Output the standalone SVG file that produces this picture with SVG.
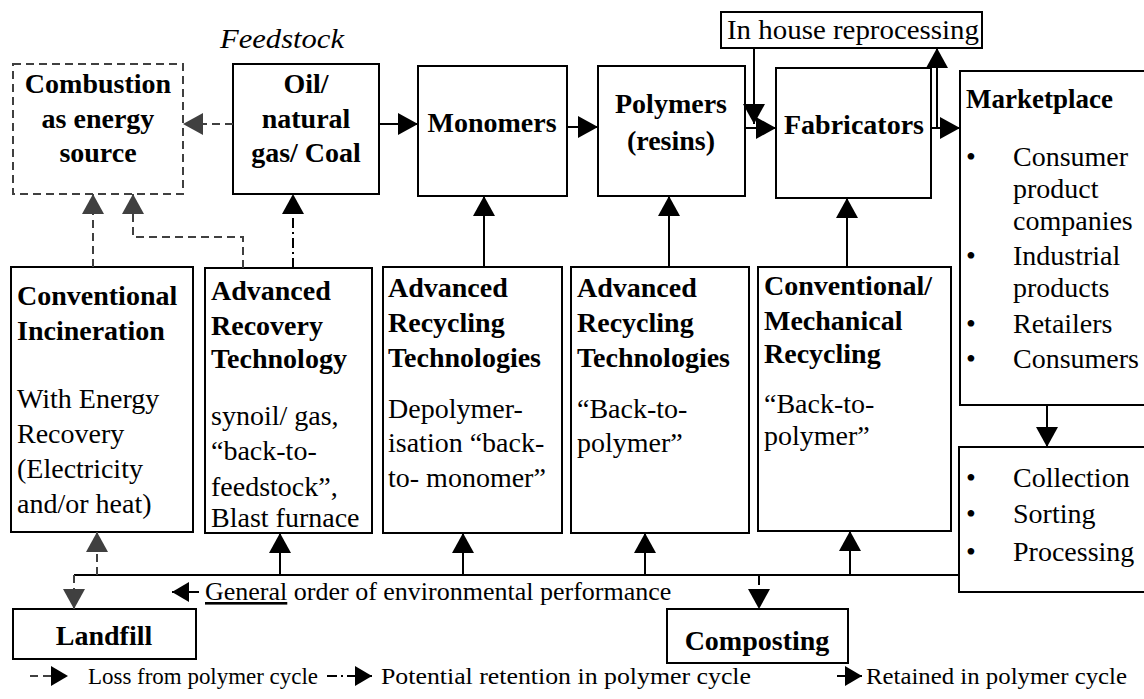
<svg xmlns="http://www.w3.org/2000/svg" width="1144" height="699" viewBox="0 0 1144 699" font-family="'Liberation Serif', Tinos, 'DejaVu Serif', 'Noto Serif', serif">
<style>
text{font-family:'Liberation Serif', Tinos, 'DejaVu Serif', 'Noto Serif', serif;fill:#000}
.b{font-size:28px;font-weight:bold}
.r{font-size:28px}
.m{text-anchor:middle}
.lg{font-size:24px}
.box{fill:#fff;stroke:#000;stroke-width:2}
.dbox{fill:#fff;stroke:#404040;stroke-width:2;stroke-dasharray:8,5}
.c{fill:none;stroke:#000;stroke-width:2}
.loss{fill:none;stroke:#404040;stroke-width:2;stroke-dasharray:8,5}
.pot{fill:none;stroke:#000;stroke-width:2;stroke-dasharray:10,4,2,4}
</style>
<defs>
<marker id="ah" markerUnits="userSpaceOnUse" markerWidth="20" markerHeight="22" refX="20" refY="11" orient="auto"><path d="M0,0 L20,11 L0,22 z" fill="#000"/></marker>
<marker id="ahg" markerUnits="userSpaceOnUse" markerWidth="20" markerHeight="22" refX="20" refY="11" orient="auto"><path d="M0,0 L20,11 L0,22 z" fill="#404040"/></marker>
<marker id="ahs" markerUnits="userSpaceOnUse" markerWidth="17" markerHeight="20" refX="17" refY="10" orient="auto"><path d="M0,0 L17,10 L0,20 z" fill="#000"/></marker>
</defs>

<text x="220" y="48" style="font-size:28px;font-style:italic" textLength="124" lengthAdjust="spacingAndGlyphs">Feedstock</text>

<g id="combustion">
<rect class="dbox" x="13" y="64" width="170" height="130"/>
<text class="b m" x="98" y="93">Combustion</text>
<text class="b m" x="98" y="128">as energy</text>
<text class="b m" x="98" y="162">source</text>
</g>
<g id="oil">
<rect class="box" x="233" y="64" width="146" height="130"/>
<text class="b m" x="306" y="93">Oil/</text>
<text class="b m" x="306" y="128">natural</text>
<text class="b m" x="306" y="162">gas/ Coal</text>
</g>
<g id="monomers">
<rect class="box" x="418" y="66" width="149" height="130"/>
<text class="b m" x="492" y="132">Monomers</text>
</g>
<g id="polymers">
<rect class="box" x="598" y="66" width="147" height="130"/>
<text class="b m" x="671" y="113">Polymers</text>
<text class="b m" x="671" y="150">(resins)</text>
</g>
<g id="inhouse">
<rect class="box" x="721" y="12" width="261" height="36"/>
<text class="r" x="727" y="39" textLength="252" lengthAdjust="spacingAndGlyphs">In house reprocessing</text>
</g>
<g id="fabricators">
<rect class="box" x="776" y="68" width="155" height="130"/>
<text class="b m" x="854" y="134">Fabricators</text>
</g>
<g id="marketplace">
<rect class="box" x="960" y="71" width="200" height="334"/>
<text class="b" x="966" y="108" style="font-size:27px">Marketplace</text>
<text class="r" x="966" y="166">•</text><text class="r" x="1013" y="166">Consumer</text>
<text class="r" x="1013" y="198">product</text>
<text class="r" x="1013" y="230">companies</text>
<text class="r" x="966" y="265">•</text><text class="r" x="1013" y="265">Industrial</text>
<text class="r" x="1013" y="297">products</text>
<text class="r" x="966" y="333">•</text><text class="r" x="1013" y="333">Retailers</text>
<text class="r" x="966" y="368">•</text><text class="r" x="1013" y="368">Consumers</text>
</g>
<g id="collection">
<rect class="box" x="959" y="447" width="200" height="145"/>
<text class="r" x="966" y="487">•</text><text class="r" x="1013" y="487">Collection</text>
<text class="r" x="966" y="523">•</text><text class="r" x="1013" y="523">Sorting</text>
<text class="r" x="966" y="561">•</text><text class="r" x="1013" y="561">Processing</text>
</g>
<g id="incineration">
<rect class="box" x="11" y="267" width="182" height="265"/>
<text class="b" x="17" y="305">Conventional</text>
<text class="b" x="17" y="340">Incineration</text>
<text class="r" x="17" y="408">With Energy</text>
<text class="r" x="17" y="443">Recovery</text>
<text class="r" x="17" y="478">(Electricity</text>
<text class="r" x="17" y="513">and/or heat)</text>
</g>
<g id="recovery">
<rect class="box" x="205" y="268" width="167" height="265"/>
<text class="b" x="211" y="300">Advanced</text>
<text class="b" x="211" y="335">Recovery</text>
<text class="b" x="211" y="368">Technology</text>
<text class="r" x="211" y="425">synoil/ gas,</text>
<text class="r" x="211" y="460">“back-to-</text>
<text class="r" x="211" y="496">feedstock”,</text>
<text class="r" x="211" y="527">Blast furnace</text>
</g>
<g id="recycling1">
<rect class="box" x="383" y="267" width="179" height="266"/>
<text class="b" x="388" y="297">Advanced</text>
<text class="b" x="388" y="332">Recycling</text>
<text class="b" x="388" y="367">Technologies</text>
<text class="r" x="388" y="418">Depolymer-</text>
<text class="r" x="388" y="452">isation “back-</text>
<text class="r" x="388" y="487">to- monomer”</text>
</g>
<g id="recycling2">
<rect class="box" x="571" y="267" width="178" height="266"/>
<text class="b" x="577" y="297">Advanced</text>
<text class="b" x="577" y="332">Recycling</text>
<text class="b" x="577" y="367">Technologies</text>
<text class="r" x="577" y="418">“Back-to-</text>
<text class="r" x="577" y="452">polymer”</text>
</g>
<g id="mechanical">
<rect class="box" x="758" y="267" width="193" height="264"/>
<text class="b" x="764" y="295">Conventional/</text>
<text class="b" x="764" y="330">Mechanical</text>
<text class="b" x="764" y="363">Recycling</text>
<text class="r" x="764" y="413">“Back-to-</text>
<text class="r" x="764" y="445">polymer”</text>
</g>
<g id="landfill">
<rect class="box" x="13" y="609" width="183" height="50"/>
<text class="b m" x="104" y="645">Landfill</text>
</g>
<g id="composting">
<rect class="box" x="667" y="609" width="181" height="54"/>
<text class="b m" x="757" y="650">Composting</text>
</g>

<g id="connectors">
<path class="loss" d="M233,124 L183,124" marker-end="url(#ahg)"/>
<path class="c" d="M379,124 L418,124" marker-end="url(#ah)"/>
<path class="c" d="M567,127 L598,127" marker-end="url(#ah)"/>
<path class="c" d="M745,128 L776,128" marker-end="url(#ah)"/>
<path class="c" d="M754,48 L754,124" marker-end="url(#ah)"/>
<path class="c" d="M931,128 L960,128" marker-end="url(#ah)"/>
<path class="c" d="M937,128 L937,48" marker-end="url(#ah)"/>
<path class="loss" d="M93,267 L93,194" marker-end="url(#ahg)"/>
<path class="loss" d="M243,268 L243,237 L133,237 L133,194" marker-end="url(#ahg)"/>
<path class="pot" d="M293,268 L293,194" marker-end="url(#ah)"/>
<path class="c" d="M484,267 L484,196" marker-end="url(#ah)"/>
<path class="c" d="M669,267 L669,196" marker-end="url(#ah)"/>
<path class="c" d="M847,267 L847,198" marker-end="url(#ah)"/>
<path class="c" d="M1047,405 L1047,447" marker-end="url(#ah)"/>
<path class="c" d="M959,575 L74,575"/>
<path class="loss" d="M74,575 L74,609" marker-end="url(#ahg)"/>
<path class="loss" d="M97,575 L97,532" marker-end="url(#ahg)"/>
<path class="c" d="M280,575 L280,533" marker-end="url(#ah)"/>
<path class="c" d="M463,575 L463,533" marker-end="url(#ah)"/>
<path class="c" d="M645,575 L645,533" marker-end="url(#ah)"/>
<path class="c" d="M850,575 L850,531" marker-end="url(#ah)"/>
<path class="pot" d="M759,575 L759,609" marker-end="url(#ah)"/>
<path class="c" d="M199,592 L172,592" marker-end="url(#ahs)"/>
</g>
<text x="205" y="600" style="font-size:26px"><tspan text-decoration="underline">General</tspan> order of environmental performance</text>

<g id="legend">
<path class="loss" d="M30,676 L68,676" stroke-dasharray="7,4" marker-end="url(#ahs)"/>
<text class="lg" x="88" y="684" textLength="230" lengthAdjust="spacingAndGlyphs">Loss from polymer cycle</text>
<path class="pot" d="M327,676 L372,676" stroke-dasharray="14,4,2,4" marker-end="url(#ahs)"/>
<text class="lg" x="381" y="684" textLength="370" lengthAdjust="spacingAndGlyphs">Potential retention in polymer cycle</text>
<path class="c" d="M837,676 L862,676" marker-end="url(#ahs)"/>
<text class="lg" x="866" y="684" textLength="261" lengthAdjust="spacingAndGlyphs">Retained in polymer cycle</text>
</g>
</svg>
